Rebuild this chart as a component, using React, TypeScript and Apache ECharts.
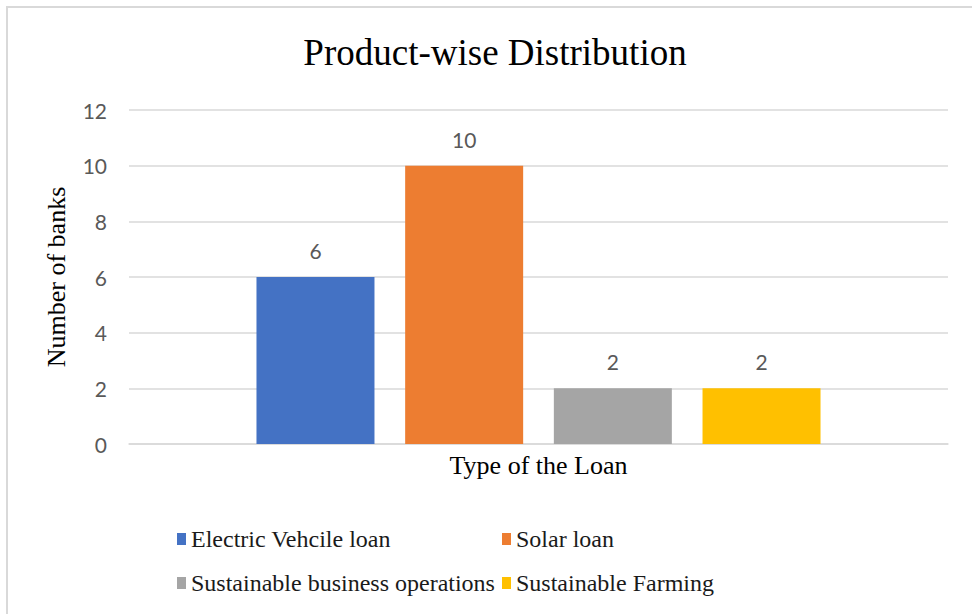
import React, { useEffect, useRef } from "react";
import * as echarts from "echarts";

const categories: string[] = [""];
const seriesNames: string[] = [
  "Electric Vehcile loan",
  "Solar loan",
  "Sustainable business operations",
  "Sustainable Farming",
];
const seriesValues: number[][] = [[6], [10], [2], [2]];
const seriesColors: string[] = ["#4472c4", "#ed7d31", "#a5a5a5", "#ffc000"];

const SERIF = "'Liberation Serif', 'Times New Roman', serif";
const SANS = "Lato, 'Liberation Sans', sans-serif";

// legend grid layout (2 columns x 2 rows), positions only
const legendColX = [177, 502];
const legendRowY = [539, 583];

export default function App() {
  const ref = useRef<HTMLDivElement>(null);

  useEffect(() => {
    if (!ref.current) return;
    const chart = echarts.init(ref.current, undefined, { renderer: "svg" });

    const legendGraphics = seriesNames.map((name, i) => {
      const col = i % 2;
      const row = Math.floor(i / 2);
      const x = legendColX[col];
      const y = legendRowY[row];
      return {
        type: "group",
        silent: true,
        children: [
          {
            type: "rect",
            shape: { x, y: y - 6, width: 9, height: 12 },
            style: { fill: seriesColors[i] },
          },
          {
            type: "text",
            x: x + 14,
            y,
            style: {
              text: name,
              font: "normal normal 24px 'Liberation Serif', serif",
              fontFamily: "Liberation Serif",
              fontSize: 24,
              fill: "#1a1a1a",
              verticalAlign: "middle",
              align: "left",
            },
          },
        ],
      };
    });

    chart.setOption({
      animation: false,
      backgroundColor: "#ffffff",
      graphic: [
        {
          type: "rect",
          shape: { x: 7, y: 7, width: 1200, height: 1200 },
          style: { fill: "none", stroke: "#d9d9d9", lineWidth: 2 },
          silent: true,
          z: -1,
        },
        ...legendGraphics,
      ],
      title: {
        text: "Product-wise Distribution",
        left: 495,
        top: 34,
        padding: 0,
        textAlign: "center",
        textStyle: { fontFamily: SERIF, fontSize: 37, fontWeight: "normal", color: "#000000" },
      },
      grid: { left: 129, right: 24, top: 110, bottom: 170, containLabel: false },
      xAxis: {
        type: "category",
        data: categories,
        name: "Type of the Loan",
        nameLocation: "middle",
        nameGap: 8,
        nameTextStyle: { fontFamily: SERIF, fontSize: 26, color: "#000000" },
        axisLine: { show: true, lineStyle: { color: "#d9d9d9", width: 1.5 } },
        axisTick: { show: false },
        axisLabel: { show: false },
      },
      yAxis: {
        type: "value",
        min: 0,
        max: 12,
        interval: 2,
        name: "Number of banks",
        nameLocation: "middle",
        nameRotate: 90,
        nameGap: 60,
        nameTextStyle: { fontFamily: SERIF, fontSize: 26, color: "#000000" },
        axisLine: { show: false },
        axisTick: { show: false },
        axisLabel: { fontFamily: SANS, fontSize: 21, color: "#595959", margin: 22 },
        splitLine: { lineStyle: { color: "#d9d9d9", width: 1.5 } },
      },
      series: seriesNames.map((name, i) => ({
        name,
        type: "bar",
        data: seriesValues[i],
        barWidth: 118,
        barGap: "26%",
        itemStyle: { color: seriesColors[i] },
        label: {
          show: true,
          position: "top",
          distance: 16,
          fontFamily: SANS,
          fontSize: 21,
          color: "#595959",
        },
      })),
    });
    return () => chart.dispose();
  }, []);

  return (
    <div
      ref={ref}
      style={{ position: "fixed", left: 0, top: 0, width: 972, height: 614, background: "#fff" }}
    />
  );
}
